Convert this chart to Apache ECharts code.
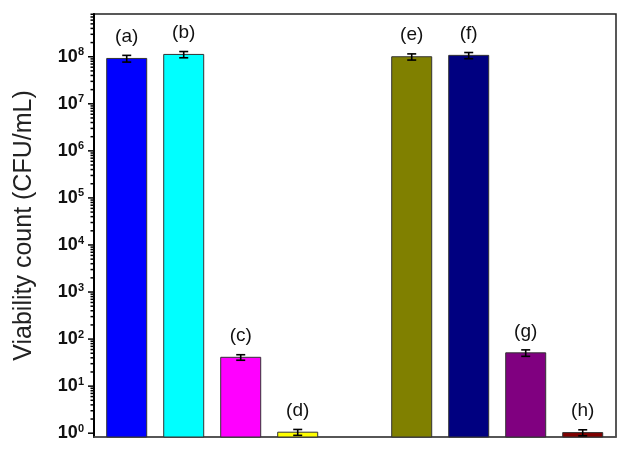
<!DOCTYPE html>
<html>
<head>
<meta charset="utf-8">
<script src="https://cdn.jsdelivr.net/npm/echarts@6/dist/echarts.min.js"></script>
<style>html,body{margin:0;padding:0;background:#fff;}#c{width:629px;height:455px;}</style>
</head>
<body>
<div id="c"></div>
<script>
// ---- data ----
var categories = ['(a)', '(b)', '(c)', '(d)', '', '(e)', '(f)', '(g)', '(h)'];
var values     = [9.2e7, 1.12e8, 41, 1.05, null, 1.0e8, 1.07e8, 51, 1.03];
var errors     = [1.5e7, 1.7e7, 5.5, 0.15, null, 1.5e7, 1.6e7, 8, 0.15];
var colors     = ['#0000FF', '#00FFFF', '#FF00FF', '#FFFF00', null, '#808000', '#000080', '#800080', '#800000'];
var yMin = 0.83, yMax = 8.1e8;
var majorTicks = [1, 10, 100, 1e3, 1e4, 1e5, 1e6, 1e7, 1e8];
var minorMultipliers = [2, 3, 4, 5, 6, 7, 8, 9];

var FONT = 'Liberation Sans, Arial, sans-serif';
var xMin = -0.574, xMax = 8.584;

var barData = [], errData = [];
categories.forEach(function (c, i) {
  if (values[i] == null) return;
  barData.push([i, values[i], c, colors[i]]);
  errData.push([i, values[i] - errors[i], values[i] + errors[i]]);
});

var tickData = [];
majorTicks.forEach(function (t) {
  tickData.push([xMin, t, 1]);
  minorMultipliers.forEach(function (m) {
    var v = t * m;
    if (v >= yMin && v <= yMax) tickData.push([xMin, v, 0]);
  });
});

var chart = echarts.init(document.getElementById('c'), null, { renderer: 'canvas' });
chart.setOption({
  animation: false,
  backgroundColor: '#fff',
  grid: { left: 94, right: 13, top: 14, bottom: 18, show: true, borderColor: '#222', borderWidth: 1.5, backgroundColor: 'transparent' },
  xAxis: {
    type: 'value', min: xMin, max: xMax,
    axisLine: { show: true, onZero: false, lineStyle: { color: '#555', width: 1.5 } },
    axisTick: { show: false }, axisLabel: { show: false }, splitLine: { show: false }
  },
  yAxis: {
    type: 'log', logBase: 10, min: yMin, max: yMax,
    name: 'Viability count (CFU/mL)', nameLocation: 'middle', nameGap: 57,
    nameTextStyle: { fontFamily: FONT, fontSize: 25, color: '#222' },
    axisLine: { show: true, onZero: false, lineStyle: { color: '#000', width: 2 } },
    axisTick: { show: false },
    splitLine: { show: false },
    axisLabel: {
      margin: 10,
      formatter: function (v) {
        var e = Math.log10(v);
        if (Math.abs(e - Math.round(e)) > 1e-6) return '';
        return '{b|10}{s|' + Math.round(e) + '}';
      },
      rich: {
        b: { fontFamily: FONT, fontSize: 18, fontWeight: 'bold', color: '#111', lineHeight: 20 },
        s: { fontFamily: FONT, fontSize: 11, fontWeight: 'bold', color: '#111', lineHeight: 20, verticalAlign: 'top' }
      }
    }
  },
  series: [
    {
      type: 'custom', data: barData, z: 3,
      encode: { x: 0, y: 1 },
      renderItem: function (params, api) {
        var x = api.value(0);
        var top = api.coord([x, api.value(1)]);
        var base = api.coord([x, yMin]);
        var w = 40;
        return { type: 'group', children: [
          { type: 'rect', shape: { x: top[0] - w / 2, y: top[1], width: w, height: base[1] - top[1] },
            style: { fill: api.value(3), stroke: '#333', lineWidth: 1 } },
          { type: 'text', x: top[0], y: top[1] - 12,
            style: { text: api.value(2), fontFamily: FONT, fontSize: 19, fill: '#111', align: 'center', verticalAlign: 'bottom' } }
        ]};
      }
    },
    {
      type: 'custom', data: errData, z: 5,
      renderItem: function (params, api) {
        var x = api.value(0);
        var lo = api.coord([x, api.value(1)]);
        var hi = api.coord([x, api.value(2)]);
        var w = 4.5;
        var st = { stroke: '#000', lineWidth: 1.6 };
        return { type: 'group', children: [
          { type: 'line', shape: { x1: lo[0], y1: lo[1], x2: hi[0], y2: hi[1] }, style: st },
          { type: 'line', shape: { x1: lo[0] - w, y1: lo[1], x2: lo[0] + w, y2: lo[1] }, style: st },
          { type: 'line', shape: { x1: hi[0] - w, y1: hi[1], x2: hi[0] + w, y2: hi[1] }, style: st }
        ]};
      }
    },
    {
      type: 'custom', data: tickData, z: 5, silent: true,
      renderItem: function (params, api) {
        var p = api.coord([api.value(0), api.value(1)]);
        var len = api.value(2) ? 6 : 3.5;
        return { type: 'line', shape: { x1: p[0] - len, y1: p[1], x2: p[0], y2: p[1] },
          style: { stroke: '#000', lineWidth: 1.5 } };
      }
    }
  ]
});
</script>
</body>
</html>
